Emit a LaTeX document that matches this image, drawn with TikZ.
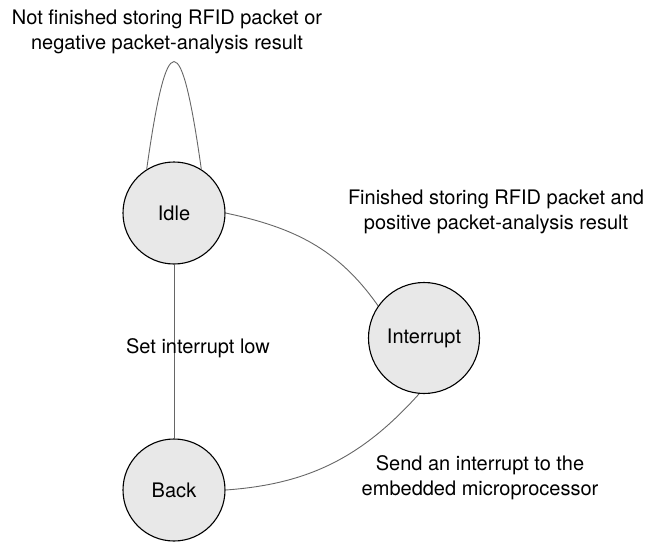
\documentclass[tikz,border=0pt]{standalone}
\usepackage{fontspec}
\setmainfont{TeX Gyre Heros}
\usetikzlibrary{positioning}
\tikzset{
  rfidstate/.style={draw, circle, fill=black!9, line width=1.1pt, minimum size=102pt, inner sep=0pt, font=\fontsize{20}{25}\selectfont},
  rfidlabel/.style={align=center, inner sep=0pt, font=\fontsize{20}{25}\selectfont},
  rfidline/.style={draw=black!60, line width=0.9pt}
}
\begin{document}
\begin{tikzpicture}[x=1pt, y=-1pt]
\useasboundingbox (0,0) rectangle (656,543);
\node[rfidstate] (idle) at (174,213) {Idle};
\node[rfidstate, minimum size=111pt] (interrupt) at (424,338) {Interrupt};
\node[rfidstate] (back) at (174,490) {Back};

\draw[rfidline] (idle.122) .. controls +(82:145pt) and +(98:145pt) .. (idle.58);
\draw[rfidline] (idle.east) to[out=-12, in=125] (interrupt.145);
\draw[rfidline] (back.east) to[out=4, in=228] (interrupt.265);
\draw[rfidline] (idle) -- (back);

\node[rfidlabel] (selflabel) at (167,32) {Not finished storing RFID packet or\\negative packet-analysis result};
\node[rfidlabel] (finishlabel) at (496,212) {Finished storing RFID packet and\\positive packet-analysis result};
\node[rfidlabel] (lowlabel) at (198,348) {Set interrupt low};
\node[rfidlabel] (sendlabel) at (480,478) {Send an interrupt to the\\embedded microprocessor};
\end{tikzpicture}
\end{document}
